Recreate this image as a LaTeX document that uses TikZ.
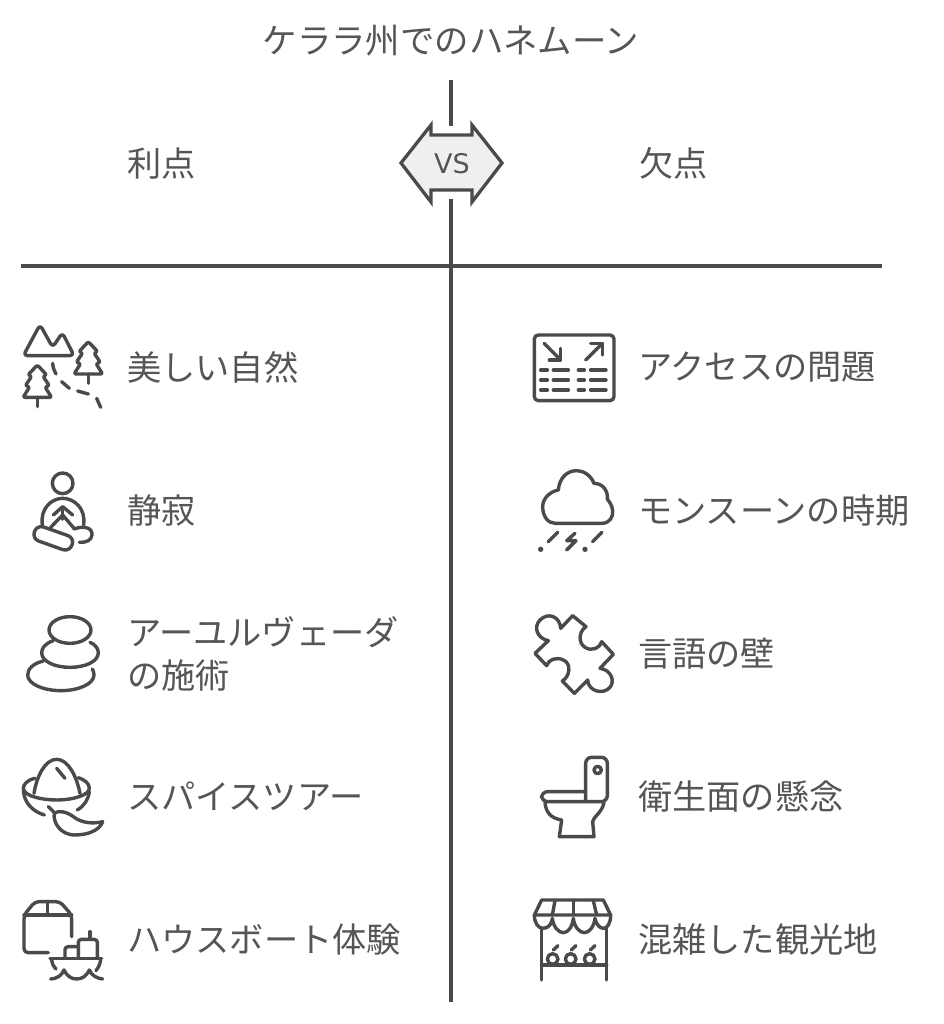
\documentclass[tikz,border=0pt]{standalone}
\usepackage{fontspec}
\setmainfont{Noto Sans CJK JP}
\newfontfamily\vsfont{DejaVu Sans}
\usetikzlibrary{positioning}
\definecolor{inkgray}{HTML}{4A4A4A}
\definecolor{textgray}{HTML}{555555}
\definecolor{vsfill}{HTML}{EFEFEF}
\tikzset{
	itemtext/.style={anchor=west, inner sep=0pt, text=textgray, align=left, font=\fontsize{34.2}{43}\selectfont},
	axisline/.style={draw=inkgray, line width=3.3pt},
	iconline/.style={draw=inkgray, line width=3.4pt, line cap=round, line join=round},
	iconzoom/.style={shift={#1}, x=0.3333pt, y=-0.3333pt}
}

\begin{document}
\begin{tikzpicture}[x=1pt, y=-1pt]
	\useasboundingbox (0,0) rectangle (943,1024);

	% Title and column heads
	\node [itemtext, anchor=center, font=\fontsize{34.4}{43}\selectfont] at (451,40.5) (0title) {ケララ州でのハネムーン};
	\node [itemtext] at (127.5,163.5) (0pros) {利点};
	\node [itemtext] at (639.5,163.5) (0cons) {欠点};

	% Left column
	\node [itemtext] at (127,367.5) (1nature) {美しい自然};
	\node [itemtext, below=143pt of 1nature.west, anchor=west] (2calm) {静寂};
	\node [itemtext, below=143pt of 2calm.west, anchor=west] (3ayur) {アーユルヴェーダ\\の施術};
	\node [itemtext, below=143pt of 3ayur.west, anchor=west] (4spice) {スパイスツアー};
	\node [itemtext, below=143pt of 4spice.west, anchor=west] (5boat) {ハウスボート体験};

	% Right column
	\node [itemtext] at (638,367.5) (1access) {アクセスの問題};
	\node [itemtext, below=143pt of 1access.west, anchor=west] (2monsoon) {モンスーンの時期};
	\node [itemtext, below=143pt of 2monsoon.west, anchor=west] (3lang) {言語の壁};
	\node [itemtext, below=143pt of 3lang.west, anchor=west] (4hygiene) {衛生面の懸念};
	\node [itemtext, below=143pt of 4hygiene.west, anchor=west] (5crowd) {混雑した観光地};

	% Axes
	\coordinate (vtop) at (451,80);
	\coordinate (vgapa) at (451,126);
	\coordinate (vgapb) at (451,199);
	\coordinate (vbot) at (451,1002);
	\coordinate (hleft) at (21,266);
	\coordinate (hright) at (882,266);
	\draw [axisline] (vtop) -- (vgapa);
	\draw [axisline] (vgapb) -- (vbot);
	\draw [axisline] (hleft) -- (hright);

	% VS badge
	\draw [iconline, fill=vsfill, line width=3.3pt, line join=miter] (401,163) -- (431,125) -- (431,135) -- (472,135) -- (472,125) -- (502,163) -- (472,202) -- (472,190) -- (431,190) -- (431,202) -- cycle;
	\node [inner sep=0pt, text=textgray, font=\vsfont\fontsize{27}{27}\selectfont] at (452,163.5) (0vs) {VS};

	% Mountains and firs
	\begin{scope}[iconzoom={(10,310)}]
		\draw [iconline, rounded corners=4pt] (40,137) -- (90,44) -- (128,112) -- (157,68) -- (192,137) -- cycle;
		\foreach \cx/\cy in {235/95, 82/165} {
			\draw [iconline, rounded corners=2pt] (\cx,\cy) -- (\cx+28,\cy+30) -- (\cx+17,\cy+34) -- (\cx+36,\cy+62) -- (\cx+23,\cy+66) -- (\cx+43,\cy+97) -- (\cx-43,\cy+97) -- (\cx-23,\cy+66) -- (\cx-36,\cy+62) -- (\cx-17,\cy+34) -- (\cx-28,\cy+30) -- cycle;
			\draw [iconline] (\cx,\cy+97) -- (\cx,\cy+125);
		}
		\draw [iconline] (128,160) .. controls (129,172) and (132,182) .. (138,192);
		\draw [iconline] (155,215) -- (178,235);
		\draw [iconline] (203,243) -- (235,252);
		\draw [iconline] (260,265) -- (272,292);
	\end{scope}

	% Meditation
	\begin{scope}[iconzoom={(10,310)}]
		\draw [iconline] (158,520) circle [radius=31];
		\draw [iconline] (97,645) .. controls (90,595) and (125,565) .. (158,565) .. controls (192,565) and (228,595) .. (221,645);
		\draw [iconline] (130,615) -- (158,590) -- (188,615);
		\draw [iconline] (158,593) -- (158,628);
		\draw [iconline] (122,652) -- (158,615) -- (192,655);
		\draw [iconline, rounded corners=7pt] (81,644) -- (66,686) -- (178,726) -- (194,684) -- cycle;
		\draw [iconline] (192,657) .. controls (225,645) and (248,655) .. (246,675) .. controls (244,692) and (228,698) .. (208,697);
	\end{scope}

	% Stones
	\begin{scope}[iconzoom={(10,600)}]
		\draw [iconline] (180,90) ellipse [x radius=63, y radius=40];
		\draw [iconline] (130,122) .. controls (105,130) and (95,145) .. (95,158) .. controls (95,185) and (135,202) .. (180,202) .. controls (225,202) and (265,185) .. (265,158) .. controls (265,145) and (255,133) .. (240,127);
		\draw [iconline] (100,183) .. controls (70,190) and (53,207) .. (53,225) .. controls (53,252) and (100,272) .. (153,272) .. controls (205,272) and (252,252) .. (252,225) .. controls (252,218) and (250,212) .. (247,207);
	\end{scope}

	% Spice bowl
	\begin{scope}[iconzoom={(10,600)}]
		\draw [iconline] (75,535) .. controls (50,540) and (40,555) .. (40,565) .. controls (42,590) and (100,600) .. (140,600) .. controls (190,600) and (238,585) .. (238,565) .. controls (238,550) and (225,540) .. (205,533);
		\draw [iconline] (72,580) .. controls (80,530) and (105,478) .. (140,478) .. controls (175,478) and (200,530) .. (210,580);
		\draw [iconline] (140,505) -- (165,535);
		\draw [iconline] (40,570) .. controls (42,610) and (70,635) .. (103,645);
		\draw [iconline] (238,575) .. controls (235,600) and (222,618) .. (202,630);
		\draw [iconline] (115,620) -- (133,638);
		\draw [iconline] (133,640) .. controls (128,665) and (150,705) .. (195,705) .. controls (235,705) and (270,690) .. (278,665) .. controls (250,672) and (215,670) .. (190,650) .. controls (170,635) and (145,630) .. (133,640) -- cycle;
	\end{scope}

	% Box and boat
	\begin{scope}[iconzoom={(10,880)}]
		\draw [iconline, rounded corners=4pt] (185,170) -- (185,105) -- (150,65) -- (75,65) -- (42,105) -- (42,218) -- (115,218);
		\draw [iconline] (42,105) -- (185,105);
		\draw [iconline] (113,65) -- (113,105);
		\draw [iconline] (120,235) -- (275,235);
		\draw [iconline] (125,240) .. controls (127,252) and (130,260) .. (138,267);
		\draw [iconline] (272,240) .. controls (270,252) and (266,262) .. (258,272);
		\draw [iconline, rounded corners=3pt] (165,235) -- (165,200) -- (205,200);
		\draw [iconline, rounded corners=3pt] (205,235) -- (205,178) -- (262,178) -- (262,235);
		\draw [iconline] (240,155) -- (240,178);
		\draw [iconline] (122,297) .. controls (145,295) and (155,285) .. (162,270) .. controls (172,290) and (185,297) .. (200,297) .. controls (215,297) and (228,290) .. (238,270) .. controls (245,285) and (258,295) .. (278,297);
	\end{scope}

	% Route table
	\begin{scope}[iconzoom={(520,320)}]
		\draw [iconline, rounded corners=4pt] (43,45) rectangle (282,242);
		\draw [iconline] (72,70) -- (122,120);
		\draw [iconline] (122,85) -- (122,120) -- (88,120);
		\draw [iconline] (197,120) -- (247,70);
		\draw [iconline] (212,70) -- (247,70) -- (247,105);
		\foreach \ry in {150,180,210} {
			\draw [iconline] (62,\ry) -- (82,\ry);
			\draw [iconline] (100,\ry) -- (145,\ry);
			\draw [iconline] (175,\ry) -- (193,\ry);
			\draw [iconline] (212,\ry) -- (258,\ry);
		}
	\end{scope}

	% Rain cloud
	\begin{scope}[iconzoom={(520,320)}]
		\draw [iconline] (105,610) -- (245,610) .. controls (270,610) and (280,590) .. (278,572) .. controls (276,555) and (268,545) .. (262,538) .. controls (265,515) and (250,490) .. (222,490) .. controls (212,465) and (190,452) .. (170,452) .. controls (140,452) and (118,475) .. (115,510) .. controls (90,515) and (68,535) .. (68,560) .. controls (68,590) and (85,610) .. (105,610) -- cycle;
		\draw [iconline] (85,665) -- (113,637);
		\draw [iconline] (218,665) -- (246,637);
		\draw [iconline] (165,640) -- (140,662) -- (168,662) -- (140,690);
		\fill [inkgray] (62,688) circle [radius=8];
		\fill [inkgray] (195,688) circle [radius=8];
	\end{scope}

	% Puzzle piece
	\begin{scope}[iconzoom={(520,600)}]
		\draw [iconline] (122,85) -- (158,47) -- (198,80) .. controls (175,95) and (175,130) .. (195,142) .. controls (215,155) and (240,145) .. (245,125) -- (280,163) -- (240,205) .. controls (275,210) and (285,245) .. (270,262) .. controls (250,285) and (205,275) .. (203,240) -- (163,280) -- (127,243) .. controls (150,230) and (155,190) .. (130,180) .. controls (110,170) and (85,178) .. (80,197) -- (45,160) -- (85,122) .. controls (50,115) and (40,80) .. (60,60) .. controls (85,35) and (120,50) .. (122,85) -- cycle;
	\end{scope}

	% Toilet
	\begin{scope}[iconzoom={(520,600)}]
		\draw [iconline, rounded corners=6pt] (197,603) -- (197,472) -- (262,472) -- (262,605) -- (65,605) -- (65,575) -- (197,575);
		\draw [iconline] (233,510) circle [radius=11];
		\draw [iconline] (75,608) .. controls (78,640) and (95,655) .. (125,660) -- (118,710) -- (222,710) -- (218,665) .. controls (220,650) and (245,640) .. (252,608);
	\end{scope}

	% Market stall
	\begin{scope}[iconzoom={(520,885)}]
		\draw [iconline] (43,90) -- (65,45) -- (250,45) -- (272,90) -- cycle;
		\draw [iconline] (105,47) -- (97,90);
		\draw [iconline] (160,47) -- (160,90);
		\draw [iconline] (220,47) -- (230,90);
		\draw [iconline] (43,90) .. controls (43,115) and (55,130) .. (70,130) .. controls (85,130) and (97,115) .. (97,100) .. controls (100,125) and (115,143) .. (130,143) .. controls (145,143) and (157,125) .. (160,100) .. controls (163,125) and (178,143) .. (193,143) .. controls (208,143) and (222,125) .. (225,100) .. controls (228,118) and (240,130) .. (250,130) .. controls (262,130) and (272,115) .. (272,90);
		\draw [iconline] (65,130) -- (65,285);
		\draw [iconline] (260,130) -- (260,285);
		\draw [iconline] (65,240) -- (260,240);
		\foreach \fx in {98,152,209} {
			\draw [iconline] (\fx,222) circle [radius=16];
			\draw [iconline] (\fx+2,195) -- (\fx+16,182);
		}
	\end{scope}
\end{tikzpicture}
\end{document}
